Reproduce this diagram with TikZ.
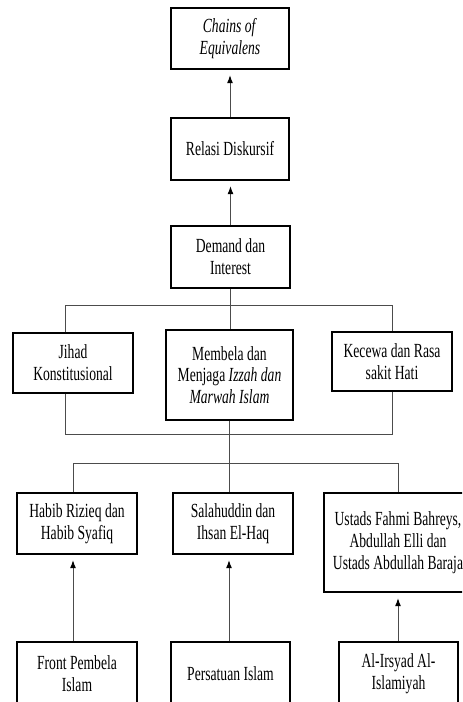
\documentclass[tikz,border=0pt]{standalone}
\usepackage{fontspec}
\setmainfont[FakeStretch=0.68]{Liberation Serif}
\usetikzlibrary{arrows.meta}

\tikzset{
  box/.style={draw=black, line width=0.8pt, inner sep=0pt, align=center,
    font=\fontsize{11.4pt}{12.4pt}\selectfont},
  link/.style={draw=black!70, line width=0.55pt},
  arr/.style={link, -{Latex[length=1.6mm,width=1.2mm,color=black]}, shorten >=1.1mm}
}

\begin{document}
\begin{tikzpicture}[x=0.2mm, y=-0.2mm]
  \useasboundingbox (0,0) rectangle (462,702);
  \clip (0,0) rectangle (462,702);

  % top chain
  \node[box, minimum width=23.6mm, minimum height=12.2mm] (chains) at (230,38.5)
    {\textit{Chains of}\\\textit{Equivalens}};
  \node[box, minimum width=23.6mm, minimum height=12.4mm] (relasi) at (230,149)
    {Relasi Diskursif};
  \node[box, minimum width=23.8mm, minimum height=12.4mm] (demand) at (230.5,257)
    {Demand dan\\Interest};

  % middle row
  \node[box, minimum width=24mm, minimum height=12mm] (jihad) at (73,363)
    {Jihad\\Konstitusional};
  \node[box, minimum width=25.4mm, minimum height=18mm] (membela) at (229.5,375)
    {Membela dan\\Menjaga \textit{Izzah dan}\\\textit{Marwah Islam}};
  \node[box, minimum width=24mm, minimum height=11.8mm] (kecewa) at (392,361.5)
    {Kecewa dan Rasa\\sakit Hati};

  % actors
  \node[box, minimum width=24mm, minimum height=12.2mm] (habib) at (77,523.5)
    {Habib Rizieq dan\\Habib Syafiq};
  \node[box, minimum width=24mm, minimum height=12.2mm] (salah) at (233,523.5)
    {Salahuddin dan\\Ihsan El-Haq};
  \node[box, minimum width=29.6mm, minimum height=19.8mm] (ustads) at (398,542.5)
    {Ustads Fahmi Bahreys,\\Abdullah Elli dan\\Ustads Abdullah Baraja};

  % organisations
  \node[box, minimum width=24mm, minimum height=12.8mm] (fpi) at (77,674)
    {Front Pembela\\Islam};
  \node[box, minimum width=23.8mm, minimum height=12.8mm] (persis) at (230.5,674)
    {Persatuan Islam};
  \node[box, minimum width=23.8mm, minimum height=12.8mm] (irsyad) at (398.5,674)
    {Al-Irsyad Al-\\Islamiyah};

  % bracket points
  \coordinate (tl) at (65,305);
  \coordinate (tr) at (392,305);
  \coordinate (ml) at (65,434);
  \coordinate (mr) at (392,434);
  \coordinate (bl) at (73,463);
  \coordinate (bm) at (229,463);
  \coordinate (br) at (398,463);

  \draw[arr] (relasi.north) -- (relasi.north |- chains.south);
  \draw[arr] (demand.north) -- (demand.north |- relasi.south);

  \draw[link] (demand.south) -- (demand.south |- membela.north);
  \draw[link] (jihad.north -| tl) -- (tl) -- (tr) -- (kecewa.north -| tr);
  \draw[link] (jihad.south -| ml) -- (ml) -- (mr) -- (kecewa.south -| mr);
  \draw[link] (membela.south -| bm) -- (bm);
  \draw[link] (habib.north -| bl) -- (bl) -- (br) -- (ustads.north -| br);
  \draw[link] (bm) -- (salah.north -| bm);

  \draw[arr] (fpi.north -| bl) -- (habib.south -| bl);
  \draw[arr] (persis.north -| bm) -- (salah.south -| bm);
  \draw[arr] (irsyad.north -| br) -- (ustads.south -| br);
\end{tikzpicture}
\end{document}
